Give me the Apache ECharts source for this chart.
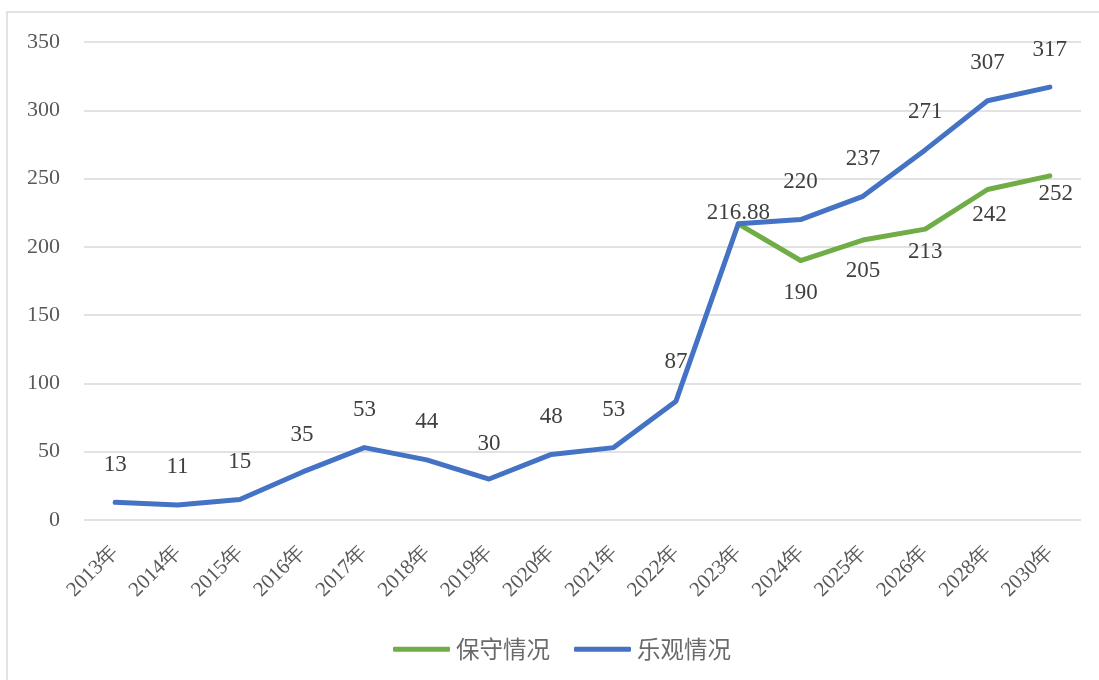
<!DOCTYPE html>
<html>
<head>
<meta charset="utf-8">
<script src="https://cdn.jsdelivr.net/npm/echarts@6/dist/echarts.min.js"></script>
<style>
  html, body { margin: 0; padding: 0; background: #ffffff; }
  #chart { width: 1099px; height: 680px; }
</style>
</head>
<body>
<div id="chart"></div>
<script>
// Years on the horizontal axis
const years = ['2013年', '2014年', '2015年', '2016年', '2017年', '2018年', '2019年', '2020年',
  '2021年', '2022年', '2023年', '2024年', '2025年', '2026年', '2028年', '2030年'];

// 乐观情况 (optimistic scenario)
const optimistic = [13, 11, 15, 35, 53, 44, 30, 48, 53, 87, 216.88, 220, 237, 271, 307, 317];

// 保守情况 (conservative scenario), starts from 2023
const conservative = [null, null, null, null, null, null, null, null, null, null,
  216.88, 190, 205, 213, 242, 252];

// Value axis ticks
const yMin = 0, yMax = 350, yStep = 50;

// Label placement tweaks (pixels), kept apart from the values
const optLabelDist = [26, 26, 26, 26, 26, 26, 24, 26, 26, 28, -1, 26, 26, 26, 26, 26];
const consLabelDist = [0, 0, 0, 0, 0, 0, 0, 0, 0, 0, 0, 21, 19, 11, 14, 7];
const consLabelDx = [0, 0, 0, 0, 0, 0, 0, 0, 0, 0, 0, 0, 0, 0, 2, 6];

const serif = '"Liberation Serif", "Times New Roman", serif';
const cjk = '"Noto Sans CJK SC", sans-serif';

const optData = optimistic.map((v, i) => ({
  value: v,
  label: { distance: optLabelDist[i] }
}));
const consData = conservative.map((v, i) => ({
  value: v,
  label: i === 10
    ? { show: false }
    : { distance: consLabelDist[i], offset: [consLabelDx[i], 0] }
}));

const chart = echarts.init(document.getElementById('chart'));
chart.setOption({
  animation: false,
  backgroundColor: '#ffffff',
  graphic: [{
    type: 'rect',
    shape: { x: 7, y: 12, width: 1200, height: 800 },
    style: { fill: 'none', stroke: '#d9d9d9', lineWidth: 1.5 },
    silent: true,
    z: -1
  }],
  grid: { left: 84, right: 18, top: 42, bottom: 160, containLabel: false },
  legend: {
    bottom: 19,
    left: 393,
    padding: 0,
    icon: 'roundRect',
    itemWidth: 57,
    itemHeight: 5,
    itemGap: 24,
    textStyle: { fontFamily: cjk, fontSize: 23.5, color: '#6a6a6a', padding: [0, 0, 0, 1] },
    data: ['保守情况', '乐观情况']
  },
  xAxis: {
    type: 'category',
    data: years,
    boundaryGap: true,
    axisLine: { show: false },
    axisTick: { show: false },
    axisLabel: {
      rotate: 45,
      margin: 29,
      fontFamily: serif,
      fontSize: 21,
      color: '#595959',
      interval: 0
    }
  },
  yAxis: {
    type: 'value',
    min: yMin,
    max: yMax,
    interval: yStep,
    axisLine: { show: false },
    axisTick: { show: false },
    axisLabel: { margin: 24, fontFamily: serif, fontSize: 22, color: '#595959' },
    splitLine: { lineStyle: { color: '#d9d9d9', width: 1.5 } }
  },
  series: [
    {
      name: '保守情况',
      type: 'line',
      data: consData,
      symbol: 'circle',
      symbolSize: 0.1,
      showSymbol: true,
      connectNulls: false,
      lineStyle: { color: '#70ad47', width: 5, cap: 'round', join: 'round' },
      itemStyle: { color: '#70ad47' },
      label: {
        show: true,
        position: 'bottom',
        fontFamily: serif,
        fontSize: 23,
        color: '#404040'
      },
      z: 2
    },
    {
      name: '乐观情况',
      type: 'line',
      data: optData,
      symbol: 'circle',
      symbolSize: 0.1,
      showSymbol: true,
      lineStyle: { color: '#4472c4', width: 5, cap: 'round', join: 'round' },
      itemStyle: { color: '#4472c4' },
      label: {
        show: true,
        position: 'top',
        fontFamily: serif,
        fontSize: 23,
        color: '#404040'
      },
      z: 3
    }
  ]
});
</script>
</body>
</html>
